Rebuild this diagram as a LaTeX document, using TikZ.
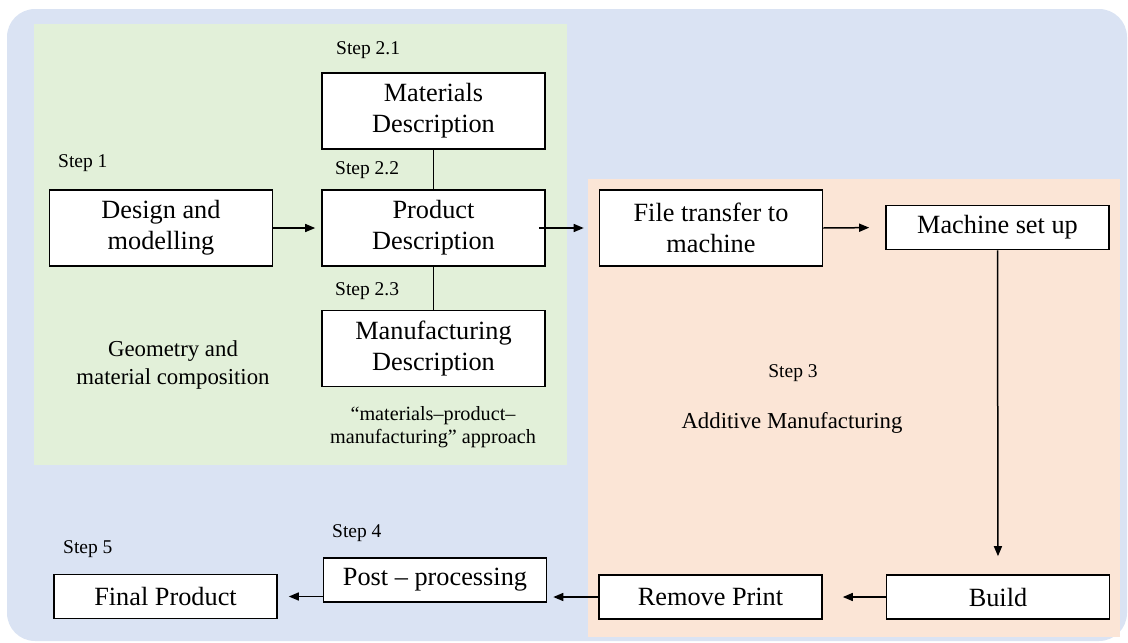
\documentclass[tikz,border=0pt]{standalone}
\usepackage{fontspec}
\setmainfont{Liberation Serif}
\usetikzlibrary{arrows.meta}
\definecolor{bgblue}{HTML}{DAE3F3}
\definecolor{bggreen}{HTML}{E2F0D9}
\definecolor{bgorange}{HTML}{FBE5D6}
\begin{document}
\begin{tikzpicture}[x=1pt,y=-1pt,
  box/.style={draw=black, line width=1.6pt, fill=white, minimum width=223pt, inner sep=0pt, align=center, font=\fontsize{26.3}{31}\selectfont},
  tall/.style={box, minimum height=76pt},
  flat/.style={box, minimum height=44pt},
  steplbl/.style={anchor=west, inner sep=0pt, font=\fontsize{19.5}{23}\selectfont},
  note/.style={inner sep=0pt, align=center},
  conn/.style={line width=1.5pt},
  arr/.style={conn, -{Triangle[length=10pt,width=8pt]}},
]
\useasboundingbox (0,0) rectangle (1128,643);
\fill[bgblue, rounded corners=28pt] (7,9) rectangle (1127,641);
\fill[bggreen] (34,24) rectangle (567,465);
\fill[bgorange] (588,179) rectangle (1120,637);

% boxes
\node[tall] (mat)  at (433.5,111)   {Materials\\Description};
\node[tall] (des)  at (161,228)     {Design and\\modelling};
\node[tall] (prod) at (433.5,228)   {Product\\Description};
\node[tall] (man)  at (433.5,348.5) {Manufacturing\\Description};
\node[tall] (file) at (711,228)     {File transfer to\\machine};
\node[flat] (mach) at (997.5,227.5) {Machine set up};
\node[flat] (build) at (998,597)    {Build};
\node[flat] (rem)  at (710.5,597)   {Remove Print};
\node[flat] (post) at (435,580)     {Post -- processing};
\node[flat] (fin)  at (165.5,596.5) {Final Product};

% labels
\node[steplbl] (s21) at (336,50)  {Step 2.1};
\node[steplbl] (s1)  at (58,163)  {Step 1};
\node[steplbl] (s22) at (335,170) {Step 2.2};
\node[steplbl] (s23) at (335,291) {Step 2.3};
\node[steplbl] (s4)  at (332,533) {Step 4};
\node[steplbl] (s5)  at (63,549)  {Step 5};
\node[note, font=\fontsize{19.5}{23}\selectfont] (s3) at (793,373) {Step 3};
\node[note, font=\fontsize{22.8}{28}\selectfont] (am) at (792,423) {Additive Manufacturing};
\node[note, font=\fontsize{22.8}{28}\selectfont] (geo) at (173,365) {Geometry and\\material composition};
\node[note, font=\fontsize{20.2}{23}\selectfont] (appr) at (433,427) {“materials–product–\\manufacturing” approach};

% connectors
\draw[conn] (mat.south) -- (prod.north);
\draw[conn] (prod.south) -- (man.north);
\draw[arr, shorten >=6pt] (des.east) -- (prod.west);
\draw[arr, shorten >=15pt] ([xshift=-7pt]prod.east) -- (file.west);
\draw[arr, shorten >=16pt] (file.east) -- (mach.west);
\draw[arr, shorten >=18pt] (mach.south) -- (build.north);
\draw[arr, shorten >=20pt] (build.west) -- (rem.east);
\draw[arr, shorten >=6pt] (rem.west) -- (post.east |- rem.west);
\draw[arr, shorten >=11pt] (post.west |- fin.east) -- (fin.east);
\end{tikzpicture}
\end{document}
